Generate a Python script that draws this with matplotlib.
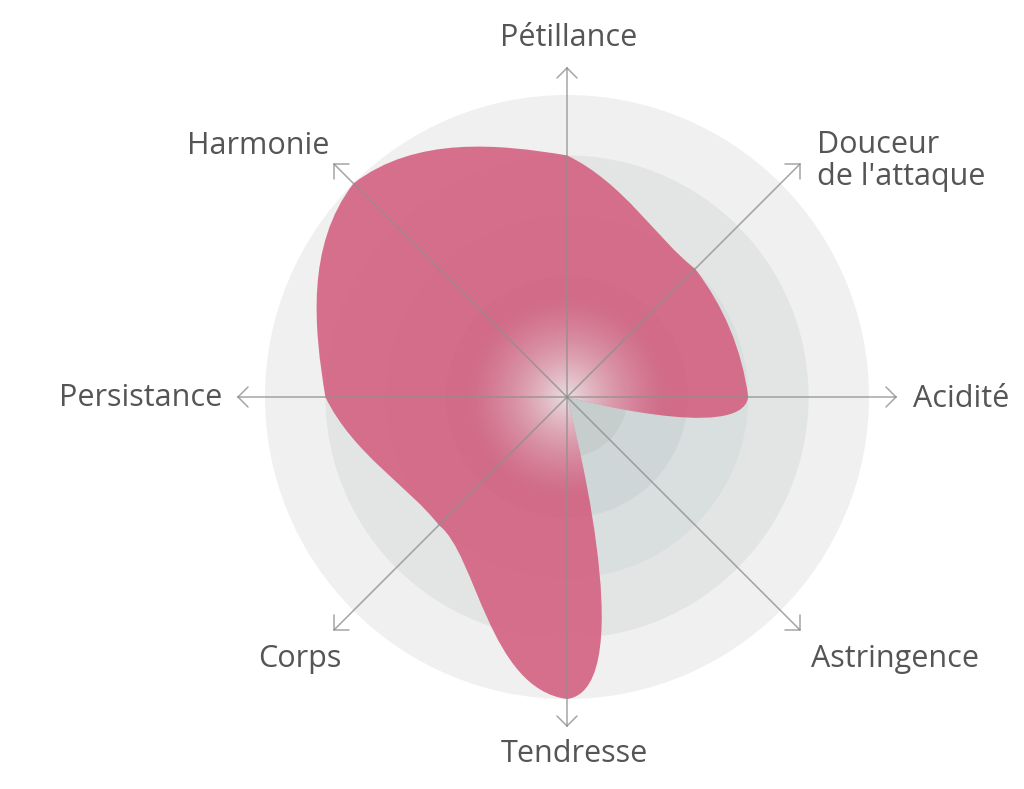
import numpy as np
import matplotlib
matplotlib.use("Agg")
import matplotlib.pyplot as plt
from matplotlib.path import Path
from matplotlib.patches import PathPatch, Circle

# data, clockwise from the top
categories = ["Pétillance", "Douceur\nde l'attaque", "Acidité", "Astringence",
              "Tendresse", "Corps", "Persistance", "Harmonie"]
values = [4, 3, 3, 0, 5, 3, 4, 5]
max_value = 5

# layout (pixels)
W, H = 1024, 789
cx, cy = 567, 397
unit = 302 / max_value
arrow_len = 329

plt.rcParams['font.family'] = ['Open Sans', 'DejaVu Sans']

fig = plt.figure(figsize=(W / 100, H / 100), dpi=100)
ax = fig.add_axes([0, 0, 1, 1])
ax.set_xlim(-cx, W - cx)
ax.set_ylim(-(H - cy), cy)
ax.axis('off')

# background rings, outer to inner
ring_colors = ['#f0f0f0', '#e3e5e5', '#d9dedf', '#cfd6d7', '#c5cdcd']
for i, c in enumerate(ring_colors):
    ax.add_patch(Circle((0, 0), (max_value - i) * unit, color=c, lw=0, zorder=1))

n = len(categories)
step = 2 * np.pi / n
angles = np.pi / 2 - np.arange(n) * step


def sgn(v):
    return -1.0 if v < 0 else 1.0


# monotone cubic in (angle, radius), control points mapped to the plane
def radial_monotone(vals):
    r = np.array(vals, dtype=float)
    m = len(r)
    slopes = np.zeros(m)
    for i in range(m):
        s0 = r[i] - r[i - 1]
        s1 = r[(i + 1) % m] - r[i]
        p = (s0 + s1) / 2
        slopes[i] = (sgn(s0) + sgn(s1)) * min(abs(s0), abs(s1), 0.5 * abs(p))

    def xy(t, rad):
        a = np.pi / 2 - t * step
        return (rad * unit * np.cos(a), rad * unit * np.sin(a))

    verts = [xy(0, r[0])]
    codes = [Path.MOVETO]
    for i in range(m):
        j = (i + 1) % m
        verts += [xy(i + 1 / 3, r[i] + slopes[i] / 3),
                  xy(i + 2 / 3, r[j] - slopes[j] / 3),
                  xy(i + 1, r[j])]
        codes += [Path.CURVE4] * 3
    verts.append(verts[0])
    codes.append(Path.CLOSEPOLY)
    return Path(np.array(verts), codes)


shape = radial_monotone(values)

patch = PathPatch(shape, facecolor='#d25a7b', edgecolor='none', alpha=0.86, zorder=3)
ax.add_patch(patch)

# pale glow in the middle of the shape
gx = np.linspace(-130, 130, 261)
gX, gY = np.meshgrid(gx, gx)
gr = np.hypot(gX, gY)
glow = np.zeros(gr.shape + (4,))
glow[..., :3] = 0.93
glow[..., 3] = 0.88 * np.clip(1 - gr / 105, 0, 1) ** 1.5
im = ax.imshow(glow, extent=(-130, 130, -130, 130), origin='lower', zorder=4,
               interpolation='bilinear')
im.set_clip_path(PathPatch(shape, transform=ax.transData, facecolor='none'))

# axes with open arrow heads
for ang in angles:
    d = np.array([np.cos(ang), np.sin(ang)])
    p = np.array([-d[1], d[0]])
    tip = d * arrow_len
    ax.plot([0, tip[0]], [0, tip[1]], color='#8f8f8f', lw=1.1, alpha=0.8, zorder=5)
    for s in (1, -1):
        wing = tip - d * 10 + s * p * 10
        ax.plot([wing[0], tip[0]], [wing[1], tip[1]], color='#8f8f8f', lw=1.1,
                alpha=0.8, zorder=5, solid_capstyle='round')

# labels
label_pos = [(2, 359, 'center', 'center'),
             (250, 236, 'left', 'center'),
             (346, -2, 'left', 'center'),
             (244, -262, 'left', 'center'),
             (7, -357, 'center', 'center'),
             (-226, -262, 'right', 'center'),
             (-345, -1, 'right', 'center'),
             (-238, 251, 'right', 'center')]
for lab, (x, y, ha, va) in zip(categories, label_pos):
    ax.text(x, y, lab, ha=ha, va=va, fontsize=22, color='#555555',
            linespacing=1.1, zorder=6)

fig.savefig('out.png', dpi=100)
